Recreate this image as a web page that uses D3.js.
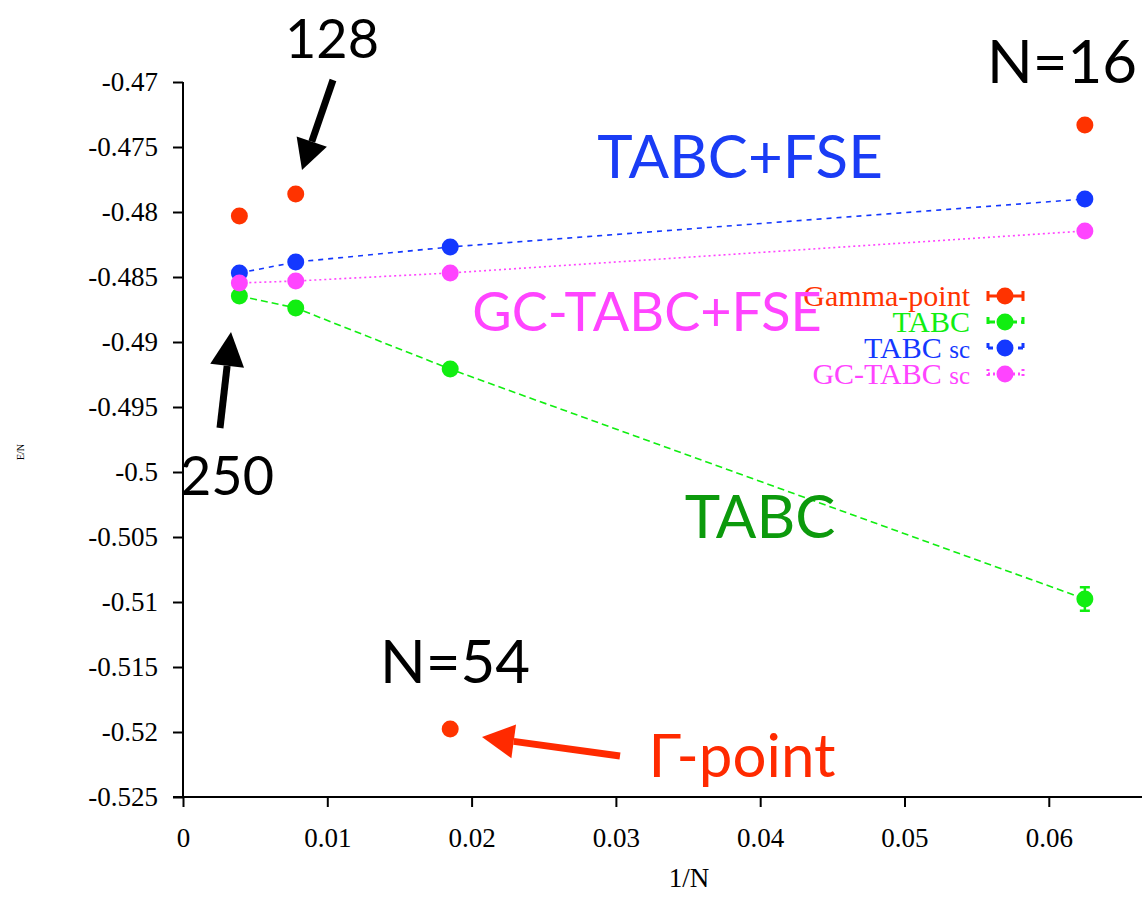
<!DOCTYPE html>
<html><head><meta charset="utf-8">
<script src="https://cdn.jsdelivr.net/npm/d3@7"></script>
<style>body{margin:0;background:#fff}</style>
</head><body>
<svg id="c" width="1142" height="898"></svg>
<script>
const invN = [1/256, 1/128, 1/54, 1/16];
const gammaPoint = [-0.48031, -0.47862, -0.51977, -0.47331];
const gammaErr = [0, 0, 0, 0];
const tabc = [-0.48646, -0.48738, -0.49208, -0.50977];
const tabcErr = [0.0001, 0.0001, 0.0001, 0.0009];
const tabcSc = [-0.48469, -0.48385, -0.48269, -0.47900];
const tabcScErr = [0, 0, 0, 0];
const gcTabcSc = [-0.48546, -0.48531, -0.48469, -0.48146];
const gcTabcScErr = [0, 0.0003, 0, 0];
const xTicks = [0, 0.01, 0.02, 0.03, 0.04, 0.05, 0.06];
const yTicks = [-0.47, -0.475, -0.48, -0.485, -0.49, -0.495, -0.5, -0.505, -0.51, -0.515, -0.52, -0.525];
const seriesNames = ["Gamma-point", "TABC", "TABC sc", "GC-TABC sc"];
const seriesColors = ["#ff3300", "#11ee11", "#1438ff", "#ff44ff"];

const svg = d3.select("#c");
const x = d3.scaleLinear().domain([0, 0.06646]).range([183, 1142]);
const y = d3.scaleLinear().domain([-0.525, -0.47]).range([797, 82]);

const serif = "'Liberation Serif', 'Times New Roman', serif";
const sans = "Lato, 'Open Sans', sans-serif";

// axes
const yAxis = d3.axisLeft(y).tickValues(yTicks).tickSize(10).tickSizeOuter(0).tickPadding(15)
  .tickFormat(d => String(+d.toFixed(3)));
const gy = svg.append("g").attr("transform", "translate(183,0)").call(yAxis);
const xAxis = d3.axisBottom(x).tickValues(xTicks).tickSize(10).tickSizeOuter(0).tickPadding(21)
  .tickFormat(d => String(+d.toFixed(2)));
const gx = svg.append("g").attr("transform", "translate(0,797)").call(xAxis);
[gx, gy].forEach(g => {
  g.style("font-family", serif).style("font-size", "27px");
  g.selectAll("path,line").attr("stroke", "#000").attr("stroke-width", 2);
  g.selectAll("text").style("font-family", serif).style("font-size", "27px").attr("fill", "#000");
});
gy.select(".domain").attr("d", "M0,82V797");
gx.select(".domain").attr("d", "M173,0H1142");

svg.append("text").attr("x", 689).attr("y", 887).attr("text-anchor", "middle")
  .style("font-family", serif).style("font-size", "27px").text("1/N");
svg.append("text").attr("transform", "translate(24,452) rotate(-90)").attr("text-anchor", "middle")
  .style("font-family", serif).style("font-size", "10px").attr("fill", "#000").text("E/N");

// series
const series = [
  {vals: gammaPoint, err: gammaErr, line: false, dash: null},
  {vals: tabc, err: tabcErr, line: true, dash: "7,4"},
  {vals: tabcSc, err: tabcScErr, line: true, dash: "5,5"},
  {vals: gcTabcSc, err: gcTabcScErr, line: true, dash: "2,3"}
];
const lineGen = d3.line().x(d => x(d[0])).y(d => y(d[1]));
series.forEach((s, i) => {
  const pts = invN.map((v, j) => [v, s.vals[j], s.err[j]]);
  const col = seriesColors[i];
  if (s.line) {
    svg.append("path").attr("d", lineGen(pts)).attr("fill", "none")
      .attr("stroke", col).attr("stroke-width", 1.6).attr("stroke-dasharray", s.dash);
  }
  pts.forEach(p => {
    if (p[2] > 0) {
      const y0 = y(p[1] - p[2]), y1 = y(p[1] + p[2]), cx = x(p[0]);
      svg.append("path").attr("d", `M${cx},${y0}V${y1}M${cx-5},${y0}H${cx+5}M${cx-5},${y1}H${cx+5}`)
        .attr("stroke", col).attr("stroke-width", 2.5).attr("fill", "none");
    }
  });
  svg.append("g").selectAll("circle").data(pts).join("circle")
    .attr("cx", d => x(d[0])).attr("cy", d => y(d[1])).attr("r", 8.5).attr("fill", col);
});

// legend
seriesNames.forEach((name, i) => {
  const ly = 296 + i * 26;
  const col = seriesColors[i];
  const t = svg.append("text").attr("x", 970).attr("y", ly + 10).attr("text-anchor", "end")
    .style("font-family", serif).style("font-size", "30px").attr("fill", col);
  if (name.endsWith(" sc")) {
    t.append("tspan").text(name.slice(0, -3) + " ");
    t.append("tspan").style("font-size", "25px").text("sc");
  } else t.text(name);
  svg.append("path").attr("d", `M988,${ly}H1023M988,${ly-5}V${ly+5}M1023,${ly-5}V${ly+5}`)
    .attr("stroke", col).attr("stroke-width", 3).attr("fill", "none")
    .attr("stroke-dasharray", series[i].dash);
  svg.append("circle").attr("cx", 1005).attr("cy", ly).attr("r", 8.5).attr("fill", col);
});

// annotations
function label(txt, xx, yy, size, col) {
  svg.append("text").attr("x", xx).attr("y", yy).attr("text-anchor", "middle")
    .style("font-family", sans).style("font-size", size + "px").attr("fill", col).text(txt);
}
label("128", 332, 58, 54, "#000");
label("N=16", 1062, 83, 60, "#000");
label("TABC+FSE", 740, 178, 60, "#1a3cf5");
label("GC-TABC+FSE", 647, 331, 54, "#ff44ff");
label("TABC", 760, 538, 60, "#0c9a0c");
label("250", 227, 495, 54, "#000");
label("N=54", 455, 683, 60, "#000");
label("Γ-point", 742, 777, 60, "#ff2a00");

function arrow(x0, y0, x1, y1, col, w, hl, hw) {
  const a = Math.atan2(y1 - y0, x1 - x0);
  const bx = x1 - hl * Math.cos(a), by = y1 - hl * Math.sin(a);
  const px = -Math.sin(a), py = Math.cos(a);
  svg.append("line").attr("x1", x0).attr("y1", y0).attr("x2", bx).attr("y2", by)
    .attr("stroke", col).attr("stroke-width", w);
  svg.append("path").attr("d", `M${x1},${y1}L${bx + px*hw},${by + py*hw}L${bx - px*hw},${by - py*hw}Z`)
    .attr("fill", col);
}
arrow(333, 80, 302, 170, "#000", 7, 30, 16);
arrow(220, 428, 231, 332, "#000", 7, 34, 17);
arrow(620, 756, 482, 737, "#ff2a00", 7, 32, 17);
</script>
</body></html>
